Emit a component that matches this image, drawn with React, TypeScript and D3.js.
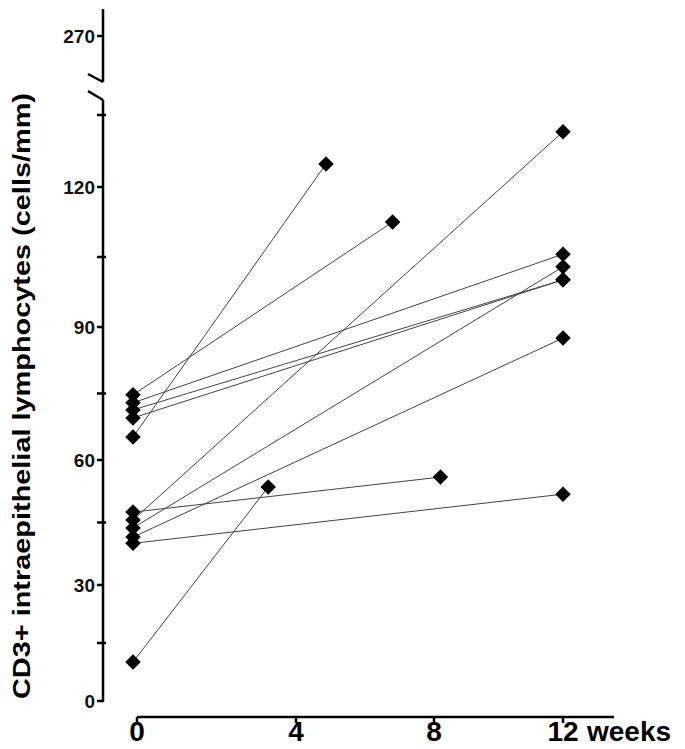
import React from "react";
import * as d3 from "d3";

// y ticks (major labelled, minor unlabelled)
const yMajorTicks = [0, 30, 60, 90, 120];
const yMinorTicks = [15, 45, 75, 105, 135];
const yBreakTick = 270;
const xTicks = [0, 4, 8, 12];
const xUnit = "weeks";
const yTitle = "CD3+ intraepithelial lymphocytes (cells/mm)";

// subjects: baseline value (week 0) and follow-up (week, value)
const startWeek = [-0.1, -0.1, -0.1, -0.1, -0.1, -0.1, -0.1, -0.1, -0.1, -0.1, -0.1];
const startVal = [65.2, 74.7, 72.9, 71.3, 69.5, 47.5, 45.6, 43.7, 41.5, 40.0, 10.1];
const endWeek = [4.87, 6.8, 12, 12, 12, 8.2, 12, 12, 12, 12, 3.3];
const endVal = [124.8, 112.5, 105.6, 100.1, 100.1, 55.9, 131.5, 102.9, 87.5, 51.8, 53.5];

export default function App() {
  const W = 685, H = 749;
  const axisX = 103;
  const y = d3.scaleLinear().domain([0, 30, 60, 90, 120, 135]).range([701, 585, 460, 327, 187, 115]);
  const x = d3.scaleLinear().domain([0, 4, 8, 12]).range([137, 296, 434, 563]);
  const xAxisY = 717;
  const diamondPath = d3.symbol().type(d3.symbolSquare).size(120)();

  const subjects = startVal.map((v, i) => ({
    x0: x(startWeek[i]), y0: y(v), x1: x(endWeek[i]), y1: y(endVal[i]),
  }));

  const tickFont = "'Liberation Sans', Arial, sans-serif";
  const narrow = "'Liberation Sans Narrow', 'Arial Narrow', 'Liberation Sans', Arial, sans-serif";

  return (
    <svg width={W} height={H} style={{ position: "absolute", left: 0, top: 0, background: "#fff" }}>
      {/* y axis title */}
      <text
        transform={`translate(30, ${396}) rotate(-90)`}
        textAnchor="middle"
        fontFamily={tickFont}
        fontWeight="bold"
        fontSize={23}
        textLength={606}
        lengthAdjust="spacingAndGlyphs"
        fill="#000"
      >
        {yTitle}
      </text>

      {/* upper broken segment */}
      <line x1={axisX} y1={9} x2={axisX} y2={82} stroke="#000" strokeWidth={2.5} />
      <line x1={axisX} y1={82} x2={88} y2={74} stroke="#000" strokeWidth={2.5} />
      <line x1={97} y1={36} x2={axisX} y2={36} stroke="#000" strokeWidth={2.5} />
      <text x={95} y={36} dy="0.35em" textAnchor="end" fontFamily={tickFont} fontWeight="bold" fontSize={19} fill="#111">
        {yBreakTick}
      </text>

      {/* lower segment */}
      <line x1={88} y1={91} x2={axisX} y2={100} stroke="#000" strokeWidth={2.5} />
      <line x1={axisX} y1={100} x2={axisX} y2={y(0) + 1} stroke="#000" strokeWidth={2.5} />
      {yMinorTicks.map((t) => (
        <line key={"m" + t} x1={97} y1={y(t)} x2={axisX + 3} y2={y(t)} stroke="#000" strokeWidth={2.5} />
      ))}
      {yMajorTicks.map((t) => (
        <g key={"M" + t}>
          <line x1={97} y1={y(t)} x2={axisX} y2={y(t)} stroke="#000" strokeWidth={2.5} />
          <text x={95} y={y(t)} dy="0.35em" textAnchor="end" fontFamily={tickFont} fontWeight="bold" fontSize={19} fill="#111">
            {t}
          </text>
        </g>
      ))}

      {/* x axis */}
      <line x1={x(0)} y1={xAxisY} x2={614} y2={xAxisY} stroke="#000" strokeWidth={2.5} />
      {xTicks.map((t) => (
        <g key={"x" + t}>
          <line x1={x(t)} y1={xAxisY} x2={x(t)} y2={xAxisY + 6} stroke="#000" strokeWidth={2.5} />
          <text x={x(t)} y={741} textAnchor="middle" fontFamily={narrow} fontWeight="bold" fontSize={28} fill="#000">
            {t}
          </text>
        </g>
      ))}
      <text x={587} y={741} fontFamily={narrow} fontWeight="bold" fontSize={28} fill="#000">
        {xUnit}
      </text>

      {/* connecting lines */}
      {subjects.map((s, i) => (
        <line key={"l" + i} x1={s.x0} y1={s.y0} x2={s.x1} y2={s.y1} stroke="#444" strokeWidth={1} />
      ))}
      {/* diamonds */}
      {subjects.map((s, i) => (
        <g key={"d" + i}>
          <path d={diamondPath} transform={`translate(${s.x0},${s.y0}) rotate(45)`} fill="#000" />
          <path d={diamondPath} transform={`translate(${s.x1},${s.y1}) rotate(45)`} fill="#000" />
        </g>
      ))}
    </svg>
  );
}
